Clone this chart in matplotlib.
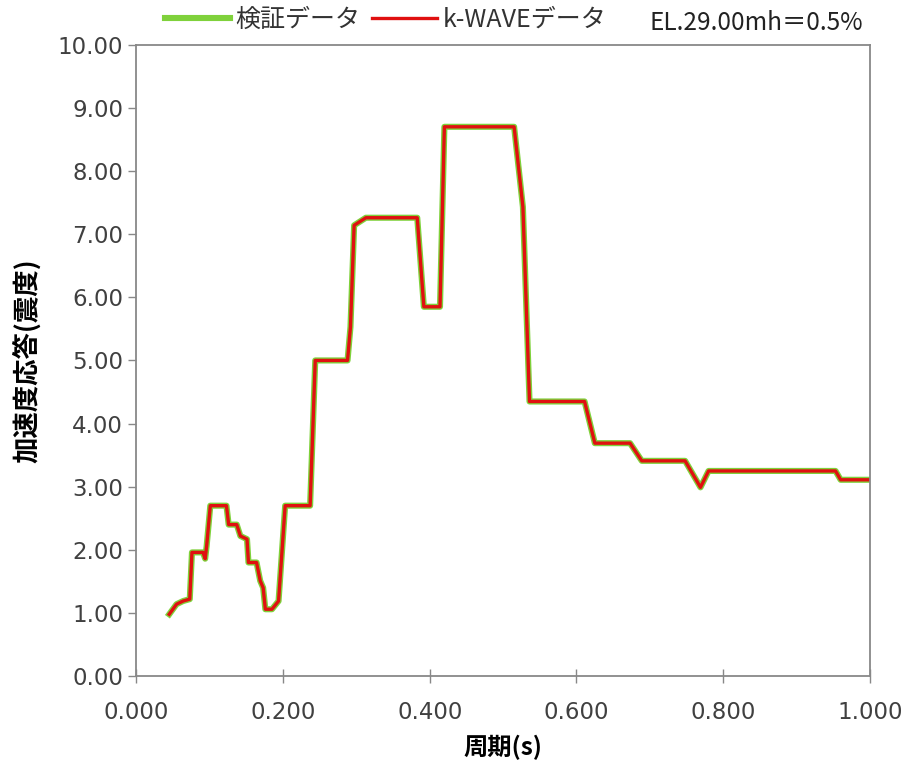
import numpy as np
import matplotlib.pyplot as plt

plt.rcParams['font.family'] = ['DejaVu Sans', 'Noto Sans CJK JP']

# 周期 (s) と加速度応答
period = [0.045, 0.055, 0.064, 0.073, 0.076, 0.091, 0.094, 0.096, 0.101, 0.123,
          0.126, 0.137, 0.142, 0.151, 0.153, 0.164, 0.169, 0.173, 0.176, 0.185,
          0.194, 0.203, 0.237, 0.244, 0.288, 0.292, 0.297, 0.313, 0.383, 0.392,
          0.414, 0.420, 0.515, 0.527, 0.536, 0.611, 0.625, 0.673, 0.689, 0.748,
          0.769, 0.780, 0.953, 0.960, 1.000]
accel_verify = [0.98, 1.14, 1.19, 1.22, 1.96, 1.96, 1.86, 2.06, 2.70, 2.70,
                2.40, 2.40, 2.22, 2.17, 1.80, 1.80, 1.51, 1.40, 1.06, 1.06,
                1.19, 2.70, 2.70, 5.00, 5.00, 5.53, 7.14, 7.26, 7.26, 5.85,
                5.85, 8.70, 8.70, 7.43, 4.35, 4.35, 3.69, 3.69, 3.41, 3.41,
                2.99, 3.25, 3.25, 3.11, 3.11]
accel_kwave = [0.98, 1.14, 1.19, 1.22, 1.96, 1.96, 1.86, 2.06, 2.70, 2.70,
               2.40, 2.40, 2.22, 2.17, 1.80, 1.80, 1.51, 1.40, 1.06, 1.06,
               1.19, 2.70, 2.70, 5.00, 5.00, 5.53, 7.14, 7.26, 7.26, 5.85,
               5.85, 8.70, 8.70, 7.43, 4.35, 4.35, 3.69, 3.69, 3.41, 3.41,
               2.99, 3.25, 3.25, 3.11, 3.11]

fig = plt.figure(figsize=(9.11, 7.71), dpi=100)
ax = fig.add_axes([0.1495, 0.123, 0.8055, 0.819])

ax.plot(period, accel_verify, color='#7fd13b', lw=4.4, label='検証データ',
        solid_joinstyle='round')
ax.plot(period, accel_kwave, color='#e01010', lw=2.4, label='k-WAVEデータ',
        solid_joinstyle='round')

ax.set_xlim(0, 1.0)
ax.set_ylim(0, 10)
ax.set_xticks(np.arange(0, 1.01, 0.2))
ax.set_yticks(np.arange(0, 10.01, 1))
ax.xaxis.set_major_formatter(plt.FormatStrFormatter('%.3f'))
ax.yaxis.set_major_formatter(plt.FormatStrFormatter('%.2f'))
ax.tick_params(labelsize=16.5, labelcolor='#404040', color='#888888',
               length=6, width=1)
ax.tick_params(axis='x', direction='inout', length=10, pad=13)
for s in ax.spines.values():
    s.set_color('#888888')
    s.set_linewidth(1.3)

ax.set_xlabel('周期(s)', fontsize=17.5, fontweight='bold',
              family=['Noto Sans CJK JP'], labelpad=8)
ax.set_ylabel('加速度応答(震度)', fontsize=19, fontweight='bold',
              family=['Noto Sans CJK JP'], labelpad=12)

leg = fig.legend(loc='center left', bbox_to_anchor=(0.181, 0.974), ncol=2,
                 frameon=False, prop={'family': ['Noto Sans CJK JP'], 'size': 18},
                 handlelength=2.6, handletextpad=0.2, columnspacing=0.5,
                 borderaxespad=0.0, borderpad=0.0)
for t in leg.get_texts():
    t.set_color('#333333')

fig.text(0.713, 0.970, 'EL.29.00mh＝0.5%', fontsize=17.5, color='#222222',
         family=['Noto Sans CJK JP'], va='center')

fig.savefig('out.png', dpi=100)
